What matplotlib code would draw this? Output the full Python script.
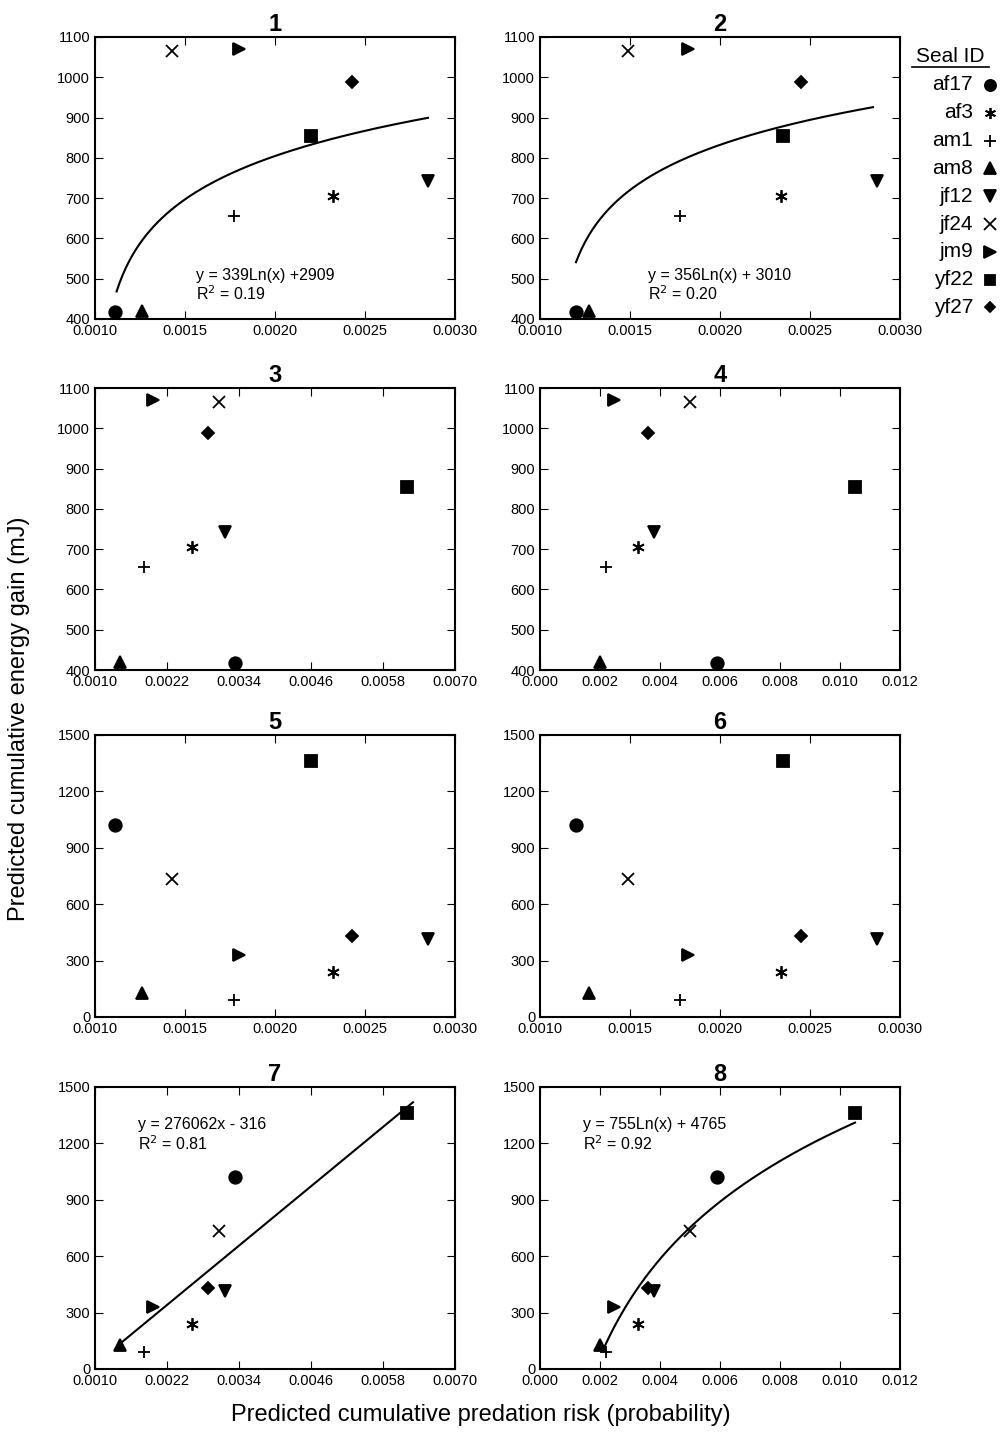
import numpy as np
import matplotlib
matplotlib.use("Agg")
import matplotlib.pyplot as plt

plt.rcParams["font.family"] = ["Liberation Sans", "DejaVu Sans"]

SEALS = ["af17", "af3", "am1", "am8", "jf12", "jf24", "jm9", "yf22", "yf27"]
MARKERS = ["o", (6, 2, 0), "+", "^", "v", "x", ">", "s", "D"]
SIZES = [9, 9, 9, 9, 9, 9, 9, 8, 6]

# predation risk per seal, four model variants
risk_a = [0.00111, 0.00232, 0.00177, 0.00126, 0.00285, 0.00143, 0.00180, 0.00220, 0.00243]
risk_b = [0.00120, 0.00234, 0.00178, 0.00127, 0.00287, 0.00149, 0.00182, 0.00235, 0.00245]
risk_c = [0.00333, 0.00262, 0.00181, 0.00141, 0.00317, 0.00307, 0.00197, 0.00620, 0.00288]
risk_d = [0.00590, 0.00328, 0.00220, 0.00200, 0.00380, 0.00500, 0.00245, 0.01050, 0.00360]

# energy gain per seal, two model variants
energy_1 = [418, 705, 655, 420, 742, 1065, 1070, 855, 988]
energy_2 = [1020, 240, 88, 130, 415, 735, 330, 1360, 432]

# fitted curves as drawn: y = a*ln(x - c) + b, or linear a*x + b
# (kind, a, b, c, x_start, x_end, equation, r2)
FITS = {
    1: ("log", 153, 1863, 0.00101, 0.00112, 0.00285, "y = 339Ln(x) +2909", "0.19"),
    2: ("log", 143, 1832, 0.00108, 0.00120, 0.00285, "y = 356Ln(x) + 3010", "0.20"),
    7: ("lin", 263000, -238, 0.0, 0.00140, 0.00630, "y = 276062x - 316", "0.81"),
    8: ("log", 752, 4737, 0.0, 0.00210, 0.01050, "y = 755Ln(x) + 4765", "0.92"),
}
TEXT_POS = {1: (0.28, 0.12), 2: (0.30, 0.12), 7: (0.12, 0.83), 8: (0.12, 0.83)}

PANELS = [
    (risk_a, energy_1), (risk_b, energy_1), (risk_c, energy_1), (risk_d, energy_1),
    (risk_a, energy_2), (risk_b, energy_2), (risk_c, energy_2), (risk_d, energy_2),
]

XTICKS = {
    "a": (np.arange(0.0010, 0.00301, 0.0005), "%.4f", (0.0010, 0.0030)),
    "c": (np.arange(0.0010, 0.00701, 0.0012), "%.4f", (0.0010, 0.0070)),
    "d": (np.arange(0.0, 0.01201, 0.002), "%.3f", (0.0, 0.012)),
}
XKIND = ["a", "a", "c", "d", "a", "a", "c", "d"]

fig = plt.figure(figsize=(10.02, 14.38), dpi=100)
W, H = 1002, 1438
lefts = [95, 540]
tops = [37, 388, 735, 1087]
aw, ah = 360, 282

for i, (xs, ys) in enumerate(PANELS):
    n = i + 1
    r, c = divmod(i, 2)
    ax = fig.add_axes([lefts[c] / W, 1 - (tops[r] + ah) / H, aw / W, ah / H])
    for s in range(len(SEALS)):
        ax.plot(xs[s], ys[s], marker=MARKERS[s], ms=SIZES[s], color="black",
                mew=1.3, ls="none", clip_on=False)
    ticks, fmt, lim = XTICKS[XKIND[i]]
    ax.set_xlim(*lim)
    ax.set_xticks(ticks)
    ax.set_xticklabels([fmt % t for t in ticks])
    if r < 2:
        ax.set_ylim(400, 1100)
        ax.set_yticks(range(400, 1101, 100))
    else:
        ax.set_ylim(0, 1500)
        ax.set_yticks(range(0, 1501, 300))
    ax.tick_params(direction="in", top=True, right=True, length=6, labelsize=10.5)
    for sp in ax.spines.values():
        sp.set_linewidth(1.5)
    ax.set_title(str(n), fontsize=17, fontweight="bold", pad=4)
    if n in FITS:
        kind, a, b, c0, x0, x1, eq, r2 = FITS[n]
        xx = np.linspace(x0, x1, 200)
        yy = a * np.log(xx - c0) + b if kind == "log" else a * xx + b
        ax.plot(xx, yy, color="black", lw=1.5)
        tx, ty = TEXT_POS[n]
        ax.text(tx, ty, eq + "\nR$^2$ = " + r2, transform=ax.transAxes,
                fontsize=11.5, va="center", linespacing=1.1)

fig.text(0.48, 12 / H, "Predicted cumulative predation risk (probability)",
         ha="center", va="bottom", fontsize=17)
fig.text(8 / W, 0.5, "Predicted cumulative energy gain (mJ)", rotation=90,
         ha="left", va="center", fontsize=17)

# legend
fig.text(950 / W, 1 - 56 / H, "Seal ID", ha="center", va="center", fontsize=15)
fig.add_artist(plt.Line2D([912 / W, 989 / W], [1 - 67 / H, 1 - 67 / H], color="black", lw=1.2))
for s, name in enumerate(SEALS):
    yp = 1 - (85 + s * 27.8) / H
    fig.text(973 / W, yp, name, ha="right", va="center", fontsize=15)
    fig.add_artist(plt.Line2D([990 / W], [yp], marker=MARKERS[s], ms=SIZES[s] - 1,
                              color="black", mew=1.3, ls="none"))

fig.savefig("out.png", dpi=100)
